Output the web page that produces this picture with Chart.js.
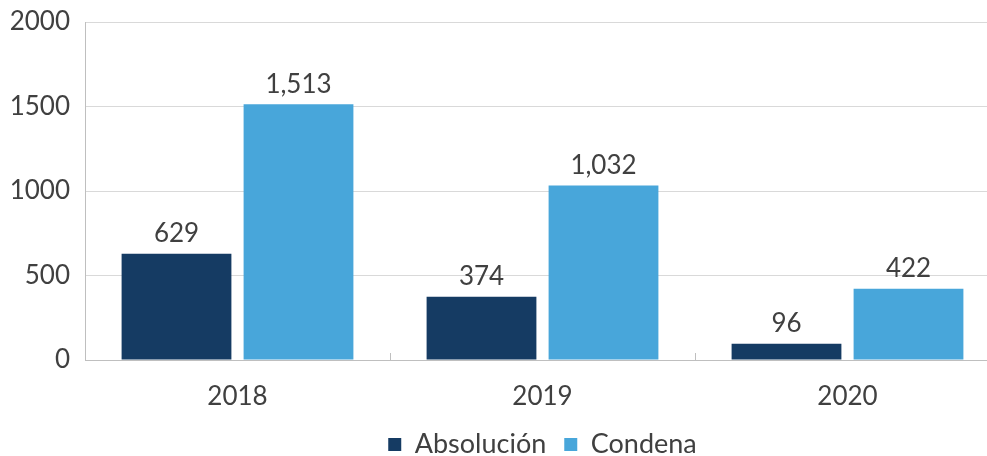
<!DOCTYPE html>
<html>
<head>
<meta charset="utf-8">
<script src="https://cdn.jsdelivr.net/npm/chart.js@4"></script>
<style>
  html, body { margin: 0; padding: 0; background: #fff; overflow: hidden; }
  #wrap { width: 1000px; height: 468px; }
</style>
</head>
<body>
<div id="wrap"><canvas id="chart"></canvas></div>
<script>
// Chart data
const years = ['2018', '2019', '2020'];
const absolucion = [629, 374, 96];
const condena = [1513, 1032, 422];
const yTicks = [0, 500, 1000, 1500, 2000];

const TEXT = '#404040';
const FONT = 'Lato, "Open Sans", sans-serif';

// value labels above each bar
const barLabels = {
    id: 'barLabels',
    afterDatasetsDraw(chart) {
        const c = chart.ctx;
        c.save();
        c.font = '26px ' + FONT;
        c.fillStyle = TEXT;
        c.textAlign = 'center';
        c.textBaseline = 'bottom';
        chart.data.datasets.forEach((ds, i) => {
            chart.getDatasetMeta(i).data.forEach((bar, j) => {
                c.fillText(ds.data[j].toLocaleString('en-US'), bar.x, bar.y - 7);
            });
        });
        c.restore();
    }
};

// short tick marks between categories, pointing up from the axis
const innerTicks = {
    id: 'innerTicks',
    afterDraw(chart) {
        const x = chart.scales.x;
        const bottom = chart.chartArea.bottom;
        const c = chart.ctx;
        c.save();
        c.strokeStyle = '#bfbfbf';
        c.lineWidth = 1;
        for (let i = 1; i < years.length; i++) {
            const px = Math.round((x.getPixelForValue(i - 1) + x.getPixelForValue(i)) / 2) + 0.5;
            c.beginPath();
            c.moveTo(px, bottom - 7);
            c.lineTo(px, bottom);
            c.stroke();
        }
        c.restore();
    }
};

new Chart(document.getElementById('chart'), {
    type: 'bar',
    data: {
        labels: years,
        datasets: [
            { label: 'Absolución', data: absolucion, backgroundColor: '#153b63' },
            { label: 'Condena', data: condena, backgroundColor: '#48a6da' }
        ]
    },
    options: {
        responsive: true,
        maintainAspectRatio: false,
        animation: false,
        layout: { padding: { top: 22, right: 0, left: 0, bottom: 0 } },
        plugins: {
            tooltip: { enabled: false },
            legend: {
                position: 'bottom',
                fullSize: false,
                labels: {
                    boxWidth: 13,
                    boxHeight: 13,
                    padding: 18,
                    color: TEXT,
                    font: { family: FONT, size: 27 }
                }
            }
        },
        scales: {
            x: {
                afterFit(scale) { scale.height = 53; },
                grid: { display: false, drawTicks: false },
                border: { color: '#bfbfbf' },
                ticks: { color: TEXT, padding: 21, font: { family: FONT, size: 26 } }
            },
            y: {
                min: 0,
                max: 2000,
                afterFit(scale) {
                    scale.width = 85;
                    scale.paddingTop = 0;
                    scale.paddingBottom = 0;
                },
                afterBuildTicks(scale) { scale.ticks = yTicks.map(v => ({ value: v })); },
                grid: { color: '#d9d9d9', drawTicks: false },
                border: { color: '#bfbfbf' },
                ticks: {
                    color: TEXT,
                    padding: 15,
                    font: { family: FONT, size: 26 },
                    callback: v => String(v)
                }
            }
        }
    },
    plugins: [barLabels, innerTicks]
});
</script>
</body>
</html>
